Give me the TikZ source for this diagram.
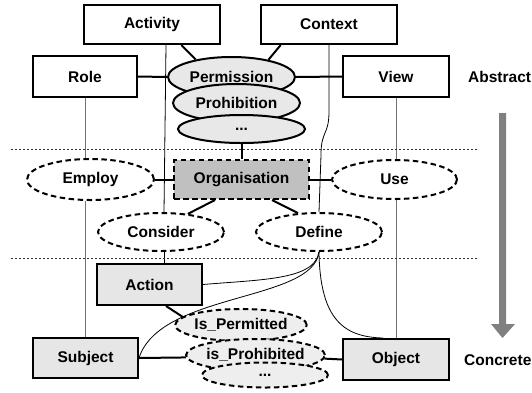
\documentclass[tikz,border=0pt]{standalone}
\usepackage{fontspec}
\setmainfont{Liberation Sans}
\usetikzlibrary{shapes.geometric,calc}
\definecolor{boxgray}{HTML}{E6E6E6}
\definecolor{orggray}{HTML}{C0C0C0}
\definecolor{ellgray}{HTML}{E8E8E8}
\definecolor{ellgray2}{HTML}{EEEEEE}
\definecolor{arrgray}{HTML}{808080}
\pgfdeclarelayer{bg}
\pgfsetlayers{bg,main}
\begin{document}
\begin{tikzpicture}[x=1pt,y=1pt,
  lbl/.style={font=\bfseries\fontsize{15.5}{18}\selectfont},
  boxw/.style={lbl, rectangle, draw, line width=2pt, fill=white, inner sep=0pt},
  boxg/.style={boxw, fill=boxgray},
  ellg/.style={lbl, ellipse, draw, line width=2pt, fill=ellgray, inner sep=0pt},
  elld/.style={lbl, ellipse, draw, line width=2pt, dash pattern=on 5.5pt off 3.5pt, fill=white, inner sep=0pt},
  elldg/.style={elld, fill=ellgray2},
  thickc/.style={line width=2pt},
  thinc/.style={line width=0.8pt, black},
  thing/.style={line width=1pt, black!55},
  sepline/.style={line width=0.7pt, dash pattern=on 2pt off 2pt, black!80}
]
\useasboundingbox (0,0) rectangle (532,-392);

% separators
\draw[sepline] (11,-149) -- (478,-149);
\draw[sepline] (11,-258) -- (478,-258);

% top boxes
\node[boxw, minimum width=136pt, minimum height=39pt] (Activity) at (152,-24.5) {Activity};
\node[boxw, minimum width=136pt, minimum height=39pt] (Context) at (329,-24.5) {Context};
\node[boxw, minimum width=104pt, minimum height=41pt] (Role) at (85,-76.5) {Role};
\node[boxw, minimum width=106pt, minimum height=41pt] (View) at (396,-76.5) {View};

% permission stack
\node[ellg, minimum width=127pt, minimum height=40pt] (Perm) at (231.5,-77) {Permission};
\node[ellg, minimum width=127pt, minimum height=38pt] (Proh) at (236.5,-103) {Prohibition};
\node[ellg, minimum width=127pt, minimum height=28pt] (DotsA) at (241.5,-129) {...};

% organisation level
\node[lbl, rectangle, draw, line width=2pt, dash pattern=on 5.5pt off 3.5pt, fill=orggray,
      inner sep=0pt, minimum width=135pt, minimum height=39pt] (Org) at (241.5,-179.5) {Organisation};
\node[elld, minimum width=127pt, minimum height=41pt] (Employ) at (90.5,-179.5) {Employ};
\node[elld, minimum width=125pt, minimum height=39pt] (Use) at (394.5,-179.5) {Use};
\node[elld, minimum width=126pt, minimum height=38pt] (Consider) at (161,-232) {Consider};
\node[elld, minimum width=126pt, minimum height=38pt] (Define) at (319,-232) {Define};

% concrete level
\node[boxg, minimum width=105pt, minimum height=41pt] (Action) at (149.5,-284.5) {Action};
\node[boxg, minimum width=105pt, minimum height=40pt] (Subject) at (85.5,-358) {Subject};
\node[boxg, minimum width=106pt, minimum height=41pt] (Object) at (396,-359.5) {Object};

\node[elldg, minimum width=128pt, minimum height=32pt] (IsPerm) at (241,-325) {Is\_Permitted};
\node[elldg, minimum width=126pt, minimum height=32pt] (IsProh) at (255.5,-355) {is\_Prohibited};
\node[elldg, minimum width=126pt, minimum height=25pt] (DotsB) at (265,-375) {...};

% side labels
\node[lbl, anchor=west, inner sep=0pt] (Abstract) at (468,-77) {Abstract};
\node[lbl, anchor=west, inner sep=0pt] (Concrete) at (464,-360) {Concrete};

% big arrow
\fill[arrgray] (499,-113) -- (506,-113) -- (506,-324) -- (515,-324) -- (502.5,-338)
  -- (491,-324) -- (499,-324) -- cycle;

\begin{pgfonlayer}{bg}
% thick connectors
\draw[thickc] (Activity.-35) -- (Perm.154);
\draw[thickc] (Context.-157) -- (Perm.25);
\draw[thickc] (Role.east) -- (Perm.west);
\draw[thickc] (Perm.east) -- (View.west);
\draw[thickc] (DotsA.south) -- (Org.north);
\draw[thickc] (Employ.east) -- (Org.west);
\draw[thickc] (Org.east) -- (Use.west);
\draw[thickc] ([xshift=-26.5pt]Org.south) -- (Consider.34);
\draw[thickc] ([xshift=30.5pt]Org.south) -- (Define.138);
\draw[thickc] ([xshift=16.5pt]Action.south) -- (IsPerm.172);
\draw[thickc] (Subject.east) -- (IsProh.182);
\draw[thickc] (IsProh.-3) -- (Object.west);

% thin gray verticals
\draw[thing] (Role.south) -- (Role.south |- Employ.north);
\draw[thing] (Subject.north |- Employ.south) -- (Subject.north);
\draw[thing] (View.south) -- (View.south |- Use.north);
\draw[thing] (Object.north |- Use.south) -- (Object.north);

% thin black connectors
\draw[thinc] ([xshift=14pt]Activity.south) -- ([xshift=3pt]Consider.north);
\draw[thinc] ([xshift=3pt]Consider.south) -- ([xshift=3pt]Consider.south |- Action.north);
\draw[thinc] (Context.south) -- ++(0,-66) .. controls +(0,-25) and +(0,25) .. ++(-8,-44) -- (Define.north);
\draw[thinc] (Define.south) .. controls +(-4,-28) and +(58,5) .. (Action.east);
\draw[thinc] (Define.south) .. controls +(-6,-50) and +(21,66) .. (Subject.east);
\draw[thinc] (Define.south) .. controls +(1,-69) and +(-38,1) .. ([xshift=-13pt]Object.north);
\end{pgfonlayer}
\end{tikzpicture}
\end{document}
